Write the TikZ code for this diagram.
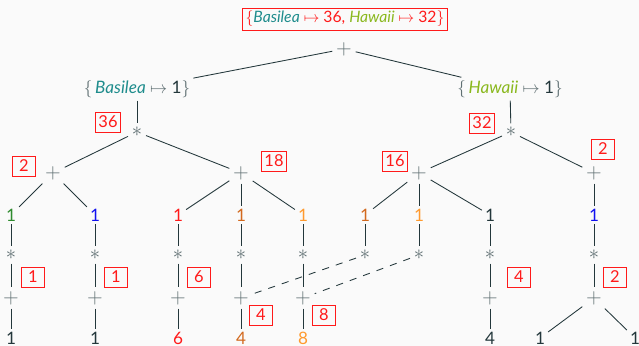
\documentclass[tikz,border=0pt]{standalone}
\usepackage{fontspec}
\setmainfont{Lato}
\begin{document}
\definecolor{bg}{HTML}{FAFAFA}
\definecolor{ink}{HTML}{23373B}
\definecolor{opgray}{HTML}{5F6F72}
\definecolor{basil}{HTML}{1E8C8C}
\definecolor{hawa}{HTML}{8AB81E}
\definecolor{cred}{HTML}{FF1A1A}
\definecolor{cgreen}{HTML}{2E8B2E}
\definecolor{cblue}{HTML}{1010F0}
\definecolor{corA}{HTML}{D2691E}
\definecolor{corB}{HTML}{FF9A2E}
\begin{tikzpicture}[x=0.7pt,y=-0.7pt,
  every node/.style={font=\fontsize{12}{14}\selectfont, text=ink, inner sep=2pt},
  op/.style={text=opgray, font=\fontsize{15}{16}\selectfont, inner sep=2.5pt},
  ann/.style={draw=cred, text=cred, line width=0.6pt, inner sep=2.2pt, minimum width=16.5pt, minimum height=14pt, font=\fontsize{11.5}{13}\selectfont},
  edge/.style={draw=ink, line width=0.6pt},
  link/.style={edge, dashed, dash pattern=on 5pt off 5pt}]
\fill[bg] (0,0) rectangle (639,346);
\useasboundingbox (0,0) rectangle (639,346);

% sum of the two maps
\node[ann, font=\fontsize{11}{13}\selectfont] (total) at (345,19) {$\{$\textcolor{basil}{\itshape Basilea} $\mapsto$ 36, \textcolor{hawa}{\itshape Hawaii} $\mapsto$ 32$\}$};
\node[op] (root) at (344,49) {$+$};
\node (mB) at (137,89) {\textcolor{opgray}{$\{\,$}\textcolor{basil}{\itshape Basilea} \textcolor{opgray}{$\mapsto$} 1\textcolor{opgray}{$\}$}};
\node (mH) at (510,89) {\textcolor{opgray}{$\{\,$}\textcolor{hawa}{\itshape Hawaii} \textcolor{opgray}{$\mapsto$} 1\textcolor{opgray}{$\}$}};

% Basilea subtree
\node[op] (bm) at (137,132) {$\ast$};
\node[op] (bp1) at (53,173) {$+$};
\node[op] (bp2) at (241,173) {$+$};
\node[text=cgreen] (l1) at (11,215) {1};
\node[text=cblue] (l2) at (95,215) {1};
\node[text=cred] (l3) at (178,215) {1};
\node[text=corA] (l4) at (241,215) {1};
\node[text=corB] (l5) at (303,215) {1};

% Hawaii subtree
\node[op] (hm) at (511,132) {$\ast$};
\node[op] (hp1) at (419,173) {$+$};
\node[op] (hp2) at (594,173) {$+$};
\node[text=corA] (r1) at (365,215) {1};
\node[text=corB] (r2) at (419,215) {1};
\node (r3) at (490,215) {1};
\node[text=cblue] (r4) at (594,215) {1};

% lower chains
\foreach \n/\x in {1/11,2/95,3/178,4/241,5/303,6/365,7/419,8/490,9/594}
  \node[op] (s\n) at (\x,255) {$\ast$};
\foreach \n/\x in {1/11,2/95,3/178,4/241,5/303,8/490,9/594}
  \node[op] (p\n) at (\x,298) {$+$};
\node (b1) at (11,338) {1};
\node (b2) at (95,338) {1};
\node[text=cred] (b3) at (178,338) {6};
\node[text=corA] (b4) at (241,338) {4};
\node[text=corB] (b5) at (303,338) {8};
\node (b8) at (490,338) {4};
\node (b9a) at (540,338) {1};
\node (b9b) at (635,338) {1};

% annotations
\node[ann] (a36) at (108,122) {36};
\node[ann] (a2l) at (24,166) {2};
\node[ann] (a18) at (274,161) {18};
\node[ann] (a32) at (482,123) {32};
\node[ann] (a16) at (395,161) {16};
\node[ann] (a2r) at (603,149) {2};
\node[ann] (c1) at (33,277) {1};
\node[ann] (c2) at (116,277) {1};
\node[ann] (c3) at (199,277) {6};
\node[ann] (c4) at (261,315) {4};
\node[ann] (c5) at (324,315) {8};
\node[ann] (c8) at (519,277) {4};
\node[ann] (c9) at (615,277) {2};

% edges
\draw[edge] (root) -- (mB);
\draw[edge] (root) -- (mH);
\draw[edge] (mB) -- (bm);
\draw[edge] (bm) -- (bp1);
\draw[edge] (bm) -- (bp2);
\draw[edge] (bp1) -- (l1);
\draw[edge] (bp1) -- (l2);
\draw[edge] (bp2) -- (l3);
\draw[edge] (bp2) -- (l4);
\draw[edge] (bp2) -- (l5);
\draw[edge] (mH) -- (hm);
\draw[edge] (hm) -- (hp1);
\draw[edge] (hm) -- (hp2);
\draw[edge] (hp1) -- (r1);
\draw[edge] (hp1) -- (r2);
\draw[edge] (hp1) -- (r3);
\draw[edge] (hp2) -- (r4);
\draw[edge] (l1) -- (s1);
\draw[edge] (l2) -- (s2);
\draw[edge] (l3) -- (s3);
\draw[edge] (l4) -- (s4);
\draw[edge] (l5) -- (s5);
\draw[edge] (r1) -- (s6);
\draw[edge] (r2) -- (s7);
\draw[edge] (r3) -- (s8);
\draw[edge] (r4) -- (s9);
\foreach \n in {1,2,3,4,5,8,9}
  \draw[edge] (s\n) -- (p\n);
\draw[edge] (p1) -- (b1);
\draw[edge] (p2) -- (b2);
\draw[edge] (p3) -- (b3);
\draw[edge] (p4) -- (b4);
\draw[edge] (p5) -- (b5);
\draw[edge] (p8) -- (b8);
\draw[edge] (p9) -- (b9a);
\draw[edge] (p9) -- (b9b);
\draw[link] (s6) -- (p4);
\draw[link] (s7) -- (p5);
\end{tikzpicture}
\end{document}
